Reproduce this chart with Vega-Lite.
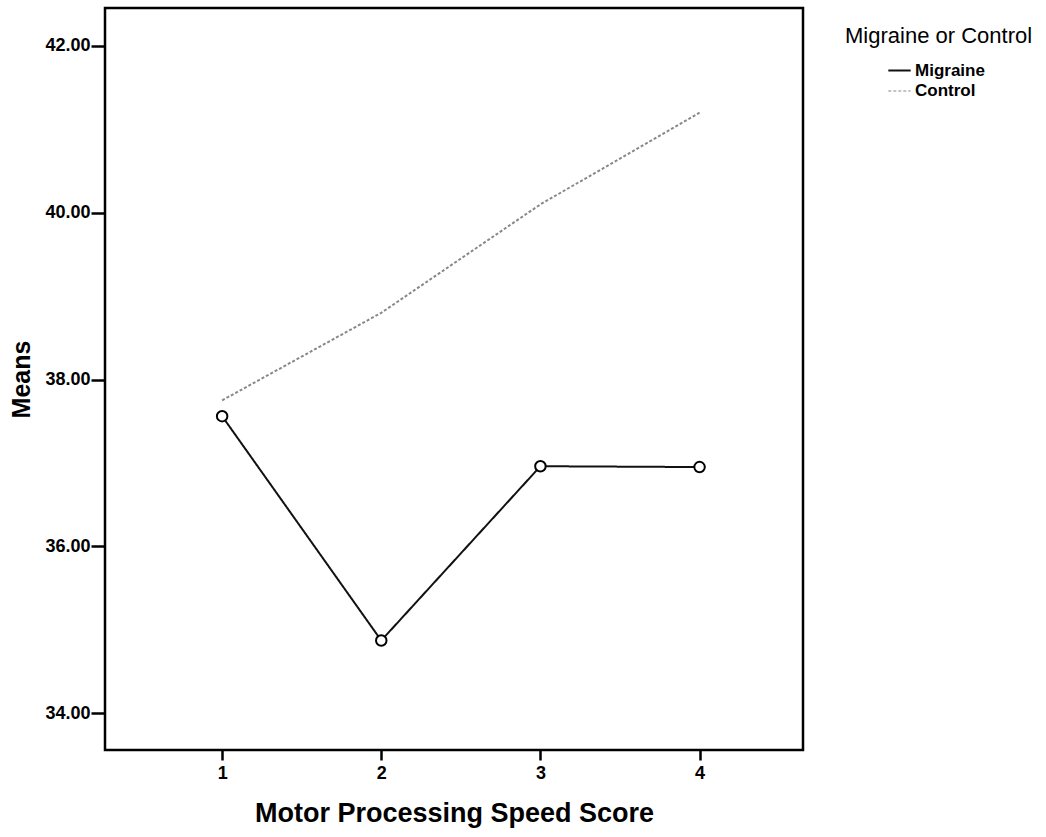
{
  "$schema": "https://vega.github.io/schema/vega-lite/v6.json",
  "autosize": "none",
  "padding": {"left": 105, "top": 8, "right": 243, "bottom": 87},
  "width": 698,
  "height": 742,
  "background": "white",
  "config": {
    "view": {"stroke": "black", "strokeWidth": 2.5},
    "font": "Liberation Sans"
  },
  "data": {
    "values": [
      {"score": 1, "group": "Migraine", "mean": 37.56},
      {"score": 2, "group": "Migraine", "mean": 34.87},
      {"score": 3, "group": "Migraine", "mean": 36.96},
      {"score": 4, "group": "Migraine", "mean": 36.95},
      {"score": 1, "group": "Control", "mean": 37.75},
      {"score": 2, "group": "Control", "mean": 38.80},
      {"score": 3, "group": "Control", "mean": 40.10},
      {"score": 4, "group": "Control", "mean": 41.20}
    ]
  },
  "layer": [
    {
      "mark": {"type": "line", "strokeWidth": 2},
      "encoding": {
        "x": {
          "field": "score", "type": "quantitative",
          "scale": {"domain": [0.264, 4.65], "nice": false, "zero": false},
          "axis": {
            "values": [1, 2, 3, 4], "format": "d", "title": "Motor Processing Speed Score",
            "grid": false, "domain": false, "tickColor": "black", "tickWidth": 2.5, "tickSize": 10,
            "labelFont": "Liberation Sans", "labelFontWeight": "bold", "labelFontSize": 18, "labelColor": "black", "labelPadding": 4,
            "titleFont": "Liberation Sans", "titleFontWeight": "bold", "titleFontSize": 27, "titleColor": "black", "titlePadding": 18
          }
        },
        "y": {
          "field": "mean", "type": "quantitative",
          "scale": {"domain": [33.557, 42.455], "nice": false, "zero": false},
          "axis": {
            "values": [34, 36, 38, 40, 42], "format": ".2f", "title": "Means",
            "grid": false, "domain": false, "tickColor": "black", "tickWidth": 2.5, "tickSize": 14,
            "labelFont": "Liberation Sans", "labelFontWeight": "bold", "labelFontSize": 18, "labelColor": "black", "labelPadding": 1,
            "titleFont": "Liberation Sans", "titleFontWeight": "bold", "titleFontSize": 25, "titleColor": "black", "titlePadding": 10
          }
        },
        "color": {
          "field": "group", "type": "nominal",
          "scale": {"domain": ["Migraine", "Control"], "range": ["#111111", "#888888"]},
          "legend": {
            "title": "Migraine or Control", "orient": "none", "legendX": 740, "legendY": 18, "titleLimit": 400,
            "titleFont": "Liberation Sans", "titleFontSize": 22, "titleFontWeight": "normal", "titleColor": "black",
            "labelFont": "Liberation Sans", "labelFontSize": 17, "labelFontWeight": "bold", "labelColor": "black", "labelOffset": 3,
            "symbolType": "stroke", "symbolSize": 500, "symbolStrokeWidth": 2, "rowPadding": 0, "titlePadding": 10, "offset": 0,
            "symbolOffset": 42
          }
        },
        "strokeDash": {
          "field": "group", "type": "nominal",
          "scale": {"domain": ["Migraine", "Control"], "range": [[1, 0], [3, 2]]},
          "legend": {"title": "Migraine or Control"}
        },
        "strokeWidth": {
          "field": "group", "type": "nominal",
          "scale": {"domain": ["Migraine", "Control"], "range": [2, 1.2]},
          "legend": null
        }
      }
    },
    {
      "transform": [{"filter": "datum.group === 'Migraine'"}],
      "mark": {"type": "point", "shape": "circle", "size": 110, "filled": false, "stroke": "black", "strokeWidth": 2, "fill": "white", "opacity": 1},
      "encoding": {
        "x": {"field": "score", "type": "quantitative"},
        "y": {"field": "mean", "type": "quantitative"}
      }
    }
  ]
}
